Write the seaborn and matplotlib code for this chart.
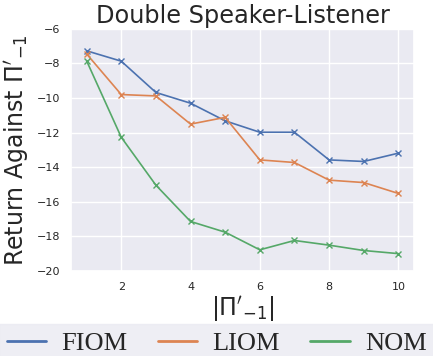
import numpy as np
import pandas as pd
import matplotlib.pyplot as plt
import seaborn as sns

sns.set_theme(style="darkgrid")

# data
n_opponents = [1, 2, 3, 4, 5, 6, 7, 8, 9, 10]
fiom = [-7.27, -7.87, -9.68, -10.3, -11.32, -11.98, -11.98, -13.58, -13.67, -13.19]
liom = [-7.45, -9.8, -9.88, -11.51, -11.12, -13.58, -13.73, -14.75, -14.89, -15.52]
nom = [-7.85, -12.27, -15.04, -17.14, -17.76, -18.78, -18.24, -18.51, -18.82, -19.0]
methods = ["FIOM", "LIOM", "NOM"]

df = pd.DataFrame({
    "n": n_opponents * 3,
    "ret": fiom + liom + nom,
    "method": [m for m in methods for _ in n_opponents],
})

fig, ax = plt.subplots(figsize=(4.33, 3.56), dpi=100)
fig.subplots_adjust(left=0.164, right=0.956, top=0.919, bottom=0.239)

sns.lineplot(data=df, x="n", y="ret", hue="method", marker="x",
             markeredgecolor=None, linewidth=1.2, markersize=5,
             markeredgewidth=1.0, ax=ax)

ax.set_ylim(-20, -6)
ax.set_yticks(np.arange(-20, -5, 2))
ax.set_xticks([2, 4, 6, 8, 10])
ax.tick_params(labelsize=8, pad=2)
ax.set_title("Double Speaker-Listener", fontsize=17.3, pad=4)
ax.set_ylabel(r"Return Against $\Pi'_{-1}$", fontsize=17)
ax.set_xlabel(r"$|\Pi'_{-1}|$", fontsize=17, labelpad=2)

handles, labels = ax.get_legend_handles_labels()
ax.get_legend().remove()
leg = fig.legend(handles, labels, loc="lower center", ncol=3,
                 bbox_to_anchor=(0.5, -0.02), frameon=True,
                 prop={"family": "Liberation Serif", "size": 19},
                 handlelength=1.5, handletextpad=0.57, columnspacing=1.15,
                 borderaxespad=0, borderpad=0.3, fancybox=False)
leg.get_frame().set_facecolor("#EAEAF2")
leg.get_frame().set_edgecolor("#EAEAF2")
for line in leg.get_lines():
    line.set_linewidth(2)
    line.set_marker("")

fig.savefig("out.png", dpi=100)
